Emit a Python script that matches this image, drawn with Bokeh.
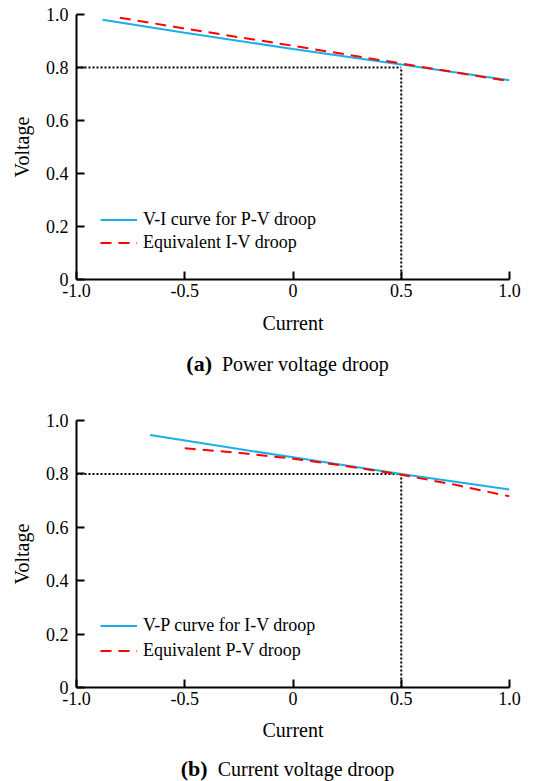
from bokeh.plotting import figure
from bokeh.models import Range1d, FixedTicker, Legend, LegendItem, Div
from bokeh.layouts import column
from bokeh.embed import file_html
from bokeh.resources import INLINE

# ---------------- data ----------------
x_ticks = [-1.0, -0.5, 0.0, 0.5, 1.0]
x_tick_labels = ["-1.0", "-0.5", "0", "0.5", "1.0"]
y_ticks = [0.0, 0.2, 0.4, 0.6, 0.8, 1.0]
y_tick_labels = ["0", "0.2", "0.4", "0.6", "0.8", "1.0"]

op_current = 0.5
op_voltage = 0.8

# (a) Power voltage droop
a_blue_x = [-0.88, -0.5, 0.0, 0.5, 1.0]
a_blue_y = [0.980, 0.931, 0.870, 0.811, 0.752]
a_red_x = [-0.80, -0.5, 0.0, 0.5, 1.0]
a_red_y = [0.988, 0.947, 0.882, 0.815, 0.748]
a_labels = ["V-I curve for P-V droop", "Equivalent I-V droop"]

# (b) Current voltage droop
b_blue_x = [-0.66, -0.25, 0.0, 0.5, 1.0]
b_blue_y = [0.946, 0.893, 0.862, 0.800, 0.742]
b_red_x = [-0.50, -0.25, 0.0, 0.25, 0.5, 0.75, 1.0]
b_red_y = [0.896, 0.879, 0.857, 0.829, 0.797, 0.759, 0.716]
b_labels = ["V-P curve for I-V droop", "Equivalent P-V droop"]

FONT = "Liberation Serif"
BLUE = "#1AAFE8"
RED = "#FF0000"


def make_panel(bx, by, rx, ry, labels, top, frame_h, bottom, row_h, leg_y, xl_standoff):
    p = figure(frame_width=433, frame_height=frame_h, output_backend="svg",
               toolbar_location=None,
               x_range=Range1d(-1.0, 1.0), y_range=Range1d(0.0, 1.0),
               min_border_left=76, min_border_right=28, min_border_top=top,
               min_border_bottom=bottom)
    p.outline_line_color = None
    p.xgrid.visible = False
    p.ygrid.visible = False
    p.background_fill_color = "white"
    p.border_fill_color = "white"

    # guide lines at the operating point
    p.line([x_ticks[0], op_current], [op_voltage, op_voltage], line_color="black",
           line_width=2, line_dash="2 2")
    p.line([op_current, op_current], [y_ticks[0], op_voltage], line_color="black",
           line_width=2, line_dash="2 2")

    r1 = p.line(bx, by, line_color=BLUE, line_width=2)
    r2 = p.line(rx, ry, line_color=RED, line_width=2, line_dash="11 7")

    for ax, ticks, labs in ((p.xaxis, x_ticks, x_tick_labels), (p.yaxis, y_ticks, y_tick_labels)):
        ax.ticker = FixedTicker(ticks=ticks)
        ax.major_label_overrides = {t: l for t, l in zip(ticks, labs)}
        ax.major_tick_in = 8
        ax.major_tick_out = 0
        ax.minor_tick_line_color = None
        ax.axis_line_width = 2
        ax.major_tick_line_width = 2
        ax.axis_line_color = "black"
        ax.major_tick_line_color = "black"
        ax.major_label_text_font = FONT
        ax.major_label_text_font_size = "18px"
        ax.major_label_text_color = "black"
        ax.axis_label_text_font = FONT
        ax.axis_label_text_font_size = "20px"
        ax.axis_label_text_font_style = "normal"
        ax.axis_label_text_color = "black"
    p.xaxis.axis_label = "Current"
    p.yaxis.axis_label = "Voltage"
    p.xaxis.major_label_standoff = 4
    p.yaxis.major_label_standoff = 8
    p.xaxis.axis_label_standoff = xl_standoff
    p.yaxis.axis_label_standoff = 10

    leg = Legend(items=[LegendItem(label=labels[0], renderers=[r1]),
                        LegendItem(label=labels[1], renderers=[r2])],
                 location=(14, leg_y), padding=10, margin=0, spacing=0,
                 glyph_width=37, glyph_height=row_h, label_height=row_h,
                 label_standoff=6, border_line_alpha=0, background_fill_alpha=0,
                 label_text_font=FONT, label_text_font_size="18px",
                 label_text_color="black")
    p.add_layout(leg, "center")
    return p


pa = make_panel(a_blue_x, a_blue_y, a_red_x, a_red_y, a_labels, 14, 265, 61, 23, 15, 12)
pb = make_panel(b_blue_x, b_blue_y, b_red_x, b_red_y, b_labels, 30, 267, 52, 25, 14, 11)

cap_style = ("font-family:'Liberation Serif';font-size:20px;color:black;"
             "white-space:nowrap;")
cap_a = Div(text=f'<div style="{cap_style}line-height:48px;">'
                 '<b style="font-size:22px">(a)</b>&nbsp;&nbsp;Power voltage droop</div>',
            width=483, height=50, margin=(0, 0, 0, 46),
            styles={"text-align": "center"})
cap_b = Div(text=f'<div style="{cap_style}line-height:40px;position:relative;top:6px;">'
                 '<b style="font-size:22px">(b)</b>&nbsp;&nbsp;Current voltage droop</div>',
            width=483, height=40, margin=(0, 0, 0, 46),
            styles={"text-align": "center"})

layout = column(pa, cap_a, pb, cap_b, spacing=0)
open("out.html", "w").write(file_html(layout, INLINE))
